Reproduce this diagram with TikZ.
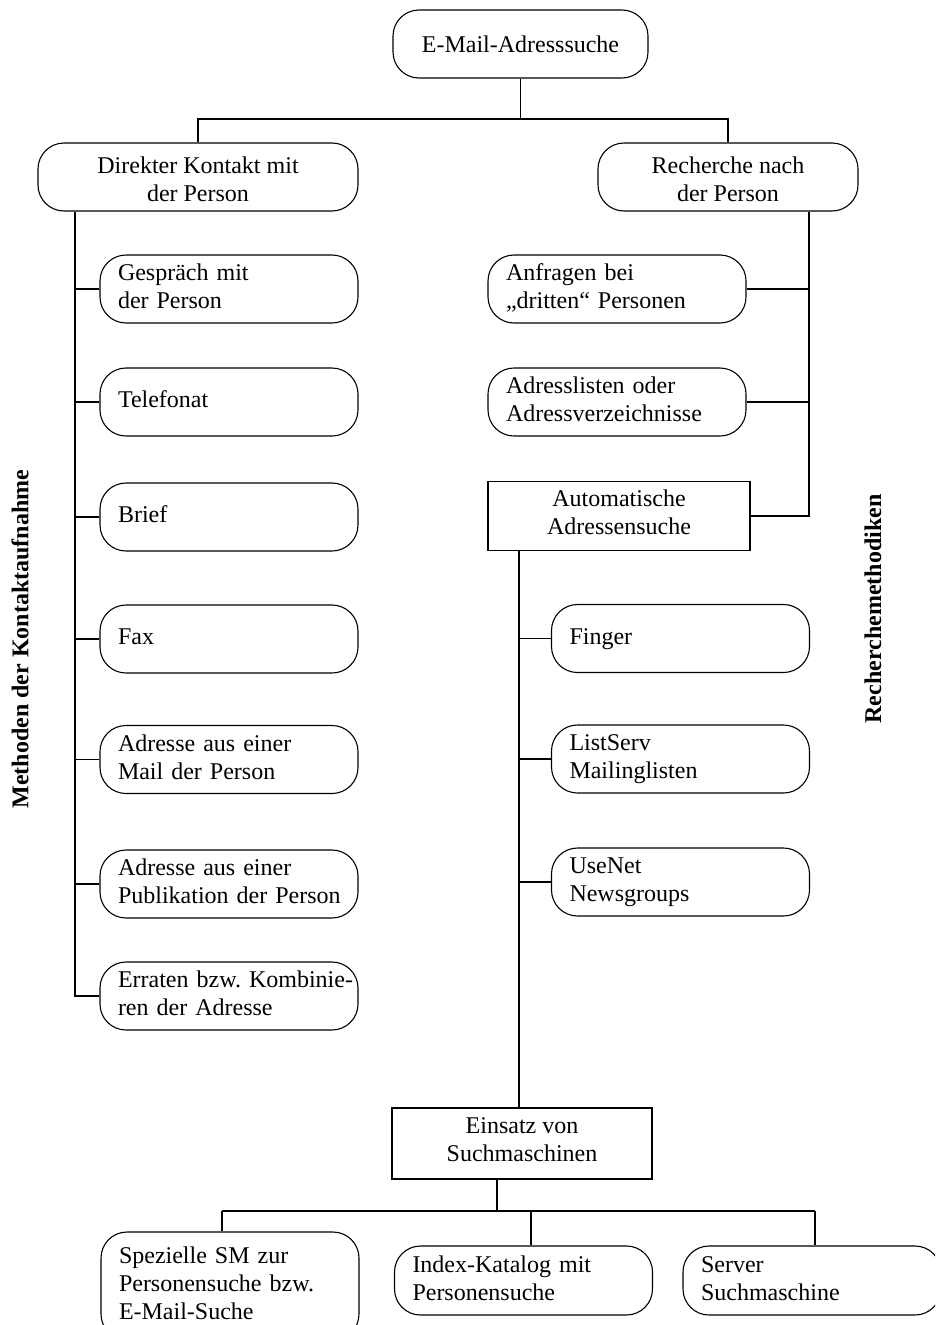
\documentclass[tikz,border=0pt]{standalone}
\usepackage{fontspec}
\setmainfont{Liberation Serif}
\frenchspacing
\begin{document}
\begin{tikzpicture}[x=1pt,y=-1pt,
  every node/.style={font=\fontsize{24}{28}\selectfont, line width=1.1pt},
  conn/.style={line width=1.1pt},
  strutted/.style={execute at begin node=\strut, execute at end node=\strut},
  rbox/.style={draw, strutted, rounded corners=26pt, align=left, text width=222pt, inner xsep=18pt, inner ysep=0pt, minimum height=68pt},
  cbox/.style={draw, rounded corners=26pt, align=center, inner sep=0pt, minimum height=68pt},
  sbox/.style={draw, strutted, align=center, inner sep=0pt},
  vlabel/.style={rotate=90, font=\fontsize{24}{28}\selectfont\bfseries}]
\clip (0,0) rectangle (935,1325);
% top level
\node[cbox, minimum width=255pt] (top) at (520.5,44) {\rule{0pt}{25.8pt}E-Mail-Adresssuche\strut};
\node[cbox, minimum width=320pt] (direkt) at (198,177) {\rule{0pt}{29pt}Direkter Kontakt mit\\der Person\strut};
\node[cbox, minimum width=260pt] (recherche) at (728,177) {\rule{0pt}{29pt}Recherche nach\\der Person\strut};
% left column
\node[rbox] (gespraech) at (229,289) {Gespräch mit\\der Person};
\node[rbox] (telefonat) at (229,402) {Telefonat};
\node[rbox] (brief) at (229,517) {Brief};
\node[rbox] (fax) at (229,639) {Fax};
\node[rbox] (mail) at (229,759.5) {Adresse aus einer\\Mail der Person};
\node[rbox] (publik) at (229,884) {Adresse aus einer\\\mbox{Publikation der Person}};
\node[rbox] (erraten) at (229,996) {\mbox{Erraten bzw. Kombinie-}\\ren der Adresse};
% right column
\node[rbox] (anfragen) at (617,289) {Anfragen bei\\„dritten“ Personen};
\node[rbox] (adress) at (617,402) {Adresslisten oder\\Adressverzeichnisse};
\node[sbox, minimum width=262pt, minimum height=69pt] (auto) at (619,516) {Automatische\\Adressensuche};
\node[rbox] (finger) at (680.5,638.5) {Finger};
\node[rbox] (listserv) at (680.5,759) {ListServ\\Mailinglisten};
\node[rbox] (usenet) at (680.5,882) {UseNet\\Newsgroups};
\node[sbox, minimum width=260pt, minimum height=71pt] (einsatz) at (522,1143.5) {Einsatz von\\Suchmaschinen};
% bottom row
\node[rbox, minimum height=108pt] (spez) at (230,1286) {Spezielle SM zur\\Personensuche bzw.\\E-Mail-Suche};
\node[rbox, minimum height=69pt] (index) at (523.5,1280.5) {Index-Katalog mit\\Personensuche};
\node[rbox, minimum height=69pt] (server) at (812,1280.5) {Server\\Suchmaschine};
% side labels
\node[vlabel] (lbl1) at (20,639) {Methoden der Kontaktaufnahme};
\node[vlabel] (lbl2) at (873,609) {Recherchemethodiken};
% helper coordinates
\coordinate (j1) at (520.5,119);
\coordinate (lx) at (75,0);
\coordinate (rx) at (809,0);
\coordinate (ax) at (519,0);
\coordinate (ex) at (497,0);
\coordinate (b1) at (222,1211);
\coordinate (b2) at (531,1211);
\coordinate (b3) at (815,1211);
% connectors
\draw[conn] (top.south) -- (j1);
\draw[conn] (direkt.north) -- (direkt.north |- j1) -- (recherche.north |- j1) -- (recherche.north);
\draw[conn] (direkt.south -| lx) -- (erraten.west -| lx) -- (erraten.west);
\foreach \n in {gespraech,telefonat,brief,fax,mail,publik}
  \draw[conn] (\n.west -| lx) -- (\n.west);
\draw[conn] (recherche.south -| rx) -- (auto.east -| rx) -- (auto.east);
\foreach \n in {anfragen,adress}
  \draw[conn] (\n.east) -- (\n.east -| rx);
\draw[conn] (auto.south -| ax) -- (einsatz.north -| ax);
\foreach \n in {finger,listserv,usenet}
  \draw[conn] (\n.west -| ax) -- (\n.west);
\draw[conn] (einsatz.south -| ex) -- (ex |- b1);
\draw[conn] (b1) -- (b3);
\draw[conn] (b1) -- (b1 |- spez.north);
\draw[conn] (b2) -- (b2 |- index.north);
\draw[conn] (b3) -- (b3 |- server.north);
\end{tikzpicture}
\end{document}
